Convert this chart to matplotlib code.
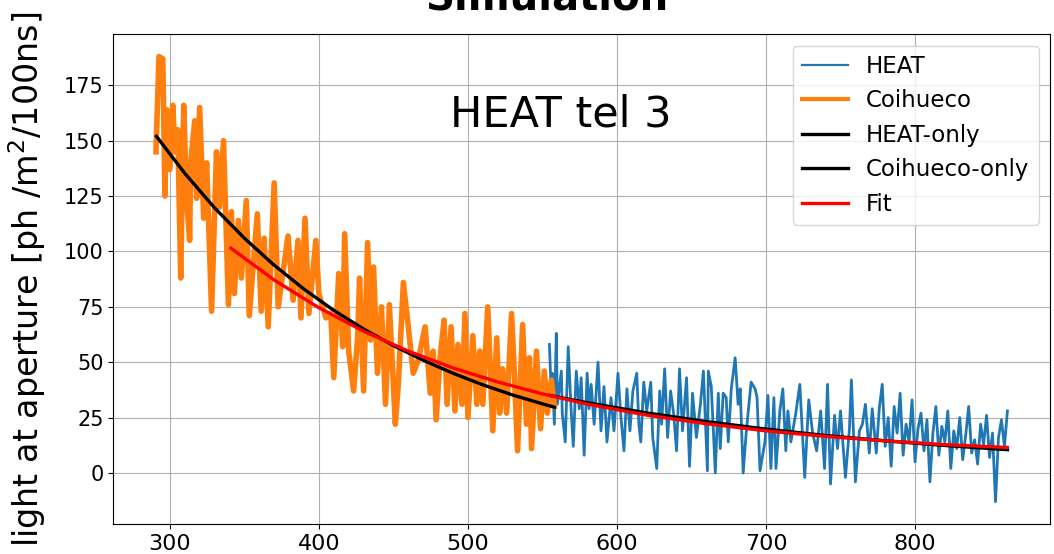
import matplotlib
matplotlib.use("Agg")
import matplotlib.pyplot as plt

# ---------------- data ----------------
coihueco_x = [290.7, 292.7, 295.3, 296.7, 298, 300, 302, 303.3, 305.3, 307.3, 309.3, 311.3, 313.3, 314,
              316.7, 318, 320, 322.7, 324.7, 328, 331.3, 333.3, 336, 339.3, 341.3, 343.3, 346, 348,
              351.3, 353.3, 358.7, 361.3, 363.3, 366, 370, 372.7, 379.3, 382.7, 386, 388, 390.7, 393.3,
              398, 400, 404.7, 408, 410, 413.3, 416, 417.3, 420, 423.3, 426, 427.3, 430, 432.7, 434.7,
              436.7, 439.3, 442, 444.7, 447.3, 451.3, 453.3, 456.7, 460, 463.3, 466.7, 471.3, 474.7,
              476.7, 478.7, 481.3, 484, 486, 488.7, 491.3, 493.3, 496, 498, 500, 503.3, 506, 508, 510,
              513.3, 516.7, 519.3, 521.3, 523.3, 526, 529.3, 531.3, 533.3, 536.7, 539.3, 541.3, 542.7,
              546, 548.7, 551.3, 553.3, 556, 558]
coihueco_y = [145, 188, 187, 125, 164, 137, 166, 145, 155, 88, 166, 123, 105, 140,
              159, 124, 165, 115, 140, 73, 145, 120, 150, 76, 118, 81, 114, 88,
              123, 71, 117, 73, 106, 66, 131, 75, 107, 78, 105, 70, 115, 72,
              105, 81, 70, 72, 43, 90, 57, 108, 55, 37, 61, 88, 37, 104, 60,
              93, 45, 75, 31, 76, 22, 40, 86, 66, 45, 51, 66, 36,
              55, 24, 52, 69, 31, 66, 28, 58, 31, 72, 25, 62, 31, 55, 31,
              75, 19, 61, 27, 47, 27, 72, 43, 10, 67, 22, 52, 11,
              55, 20, 46, 27, 42, 30]

heat_x = [554.7, 556, 556.7, 558, 559.3, 560, 562.7, 563.3, 565.3, 567.3, 569.3, 570.7, 572.7, 574.7,
          576, 578, 580, 581.3, 582.7, 584.7, 587.3, 589.3, 591.3, 593.3, 596, 598, 600.7, 602.7,
          604.7, 606.7, 608.7, 610.7, 613.3, 614.7, 616, 618, 620, 622.7, 624, 626.7, 628.7, 630,
          632, 634, 636, 638, 640, 642, 644, 646.7, 648.7, 650.7, 653.3, 656,
          658, 660.7, 661.3, 663.3, 666, 668, 669.3, 671.3, 673.3, 674.7, 676.7, 679.3, 681.3,
          682.7, 684.7, 686.7, 690, 692.7, 694, 696, 699.3, 701.3, 703.3, 705.3, 706.7, 709.3,
          711.3, 713.3, 714.7, 716.7, 720, 722.7, 726, 728.7, 731.3, 734, 736.7, 739.3, 741.3,
          743.3, 746, 748, 750, 753.3, 756, 757.3, 760, 762.7, 764.7, 766.7, 769.3, 771.3,
          774, 776, 778, 780, 782, 784, 786, 788, 790, 792, 794, 796, 798, 800, 802, 804, 806,
          808, 810, 812, 814, 816, 818, 820, 822, 824, 826, 828, 830, 832, 834, 836, 838, 840,
          842, 844, 846, 848, 850, 852, 854, 856, 858, 860, 862]
heat_y = [58, 34, 45, 22, 63, 31, 46, 27, 14, 57, 28, 12, 46, 29,
          43, 8, 45, 29, 40, 22, 50, 19, 39, 14, 34, 19, 45, 25,
          10, 38, 19, 37, 45, 22, 14, 41, 28, 41, 16, 2, 37, 22,
          47, 16, 37, 27, 10, 47, 19, 43, 3, 36, 16, 31,
          46, 1, 46, 39, 0, 36, 11, 36, 34, 14, 38, 52, 31,
          38, 0, 18, 41, 38, 34, 1, 14, 35, 2, 34, 2, 28,
          38, 10, 28, 14, 27, 40, -2, 33, 18, 10, 28, 2, 40,
          -5, 26, 11, 28, -2, 20, 42, -4, 19, 22, 31, 9, 29,
          9, 29, 40, 12, 25, 3, 30, 18, 36, 8, 22, 14, 33, 5, 20, 27, 10,
          24, -4, 18, 30, 8, 21, 14, 28, 2, 19, 11, 25, 6, 17, 30, 9, 15,
          4, 22, 13, 26, 7, 18, -13, 16, 24, 12, 28]

heat_only_x = [555, 580, 620, 660, 700, 740, 780, 820, 862]
heat_only_y = [35.0, 31.7, 27.1, 23.2, 19.8, 16.9, 14.5, 12.4, 10.5]

coihueco_only_x = [291, 310, 330, 350, 370, 390, 410, 430, 450, 470, 490, 510, 530, 550, 558]
coihueco_only_y = [152.0, 135.3, 119.7, 106.0, 93.8, 83.0, 73.4, 65.0, 57.5, 50.9, 45.0, 39.8, 35.2, 31.2, 29.7]

fit_x = [341, 370, 400, 430, 460, 490, 520, 550, 580, 620, 660, 700, 740, 780, 820, 862]
fit_y = [101.5, 87.1, 74.6, 64.0, 55.0, 47.4, 41.1, 35.7, 31.1, 26.1, 22.2, 19.0, 16.5, 14.5, 12.8, 11.5]

xticks = [300, 400, 500, 600, 700, 800]
yticks = [0, 25, 50, 75, 100, 125, 150, 175]

# ---------------- figure ----------------
fig = plt.figure(figsize=(10.54, 5.54), dpi=100)
ax = fig.add_axes([113.4 / 1054, 30 / 554, (1050 - 113.4) / 1054, (524 - 34.3) / 554])

ax.plot(heat_x, heat_y, color="#1f77b4", lw=2.0, label="HEAT")
ax.plot(coihueco_x, coihueco_y, color="#ff7f0e", lw=4.0, label="Coihueco")
ax.plot(heat_only_x, heat_only_y, color="black", lw=2.4, label="HEAT-only")
ax.plot(coihueco_only_x, coihueco_only_y, color="black", lw=2.4, label="Coihueco-only")
ax.plot(fit_x, fit_y, color="red", lw=2.4, label="Fit")

ax.set_xticks(xticks)
ax.set_yticks(yticks)
ax.tick_params(axis="y", labelsize=15)
ax.tick_params(axis="x", labelsize=16)
ax.grid(True, color="#b0b0b0", lw=0.8)
ax.set_axisbelow(True)

ax.text(562, 162, "HEAT tel 3", fontsize=31, ha="center", va="center")

leg = ax.legend(loc="upper right", fontsize=16.5, labelspacing=0.5)
leg.get_lines()[0].set_linewidth(1.6)
leg.get_lines()[1].set_linewidth(3.0)

ax.set_ylabel("light at aperture [ph /m$^2$/100ns]", fontsize=24)
ax.yaxis.set_label_coords(-0.07, 0.5)

fig.text(547 / 1054, 1 - 9 / 554, "Simulation", ha="center", va="baseline",
         fontsize=29, fontweight="bold")

fig.savefig("out.png", dpi=100)
